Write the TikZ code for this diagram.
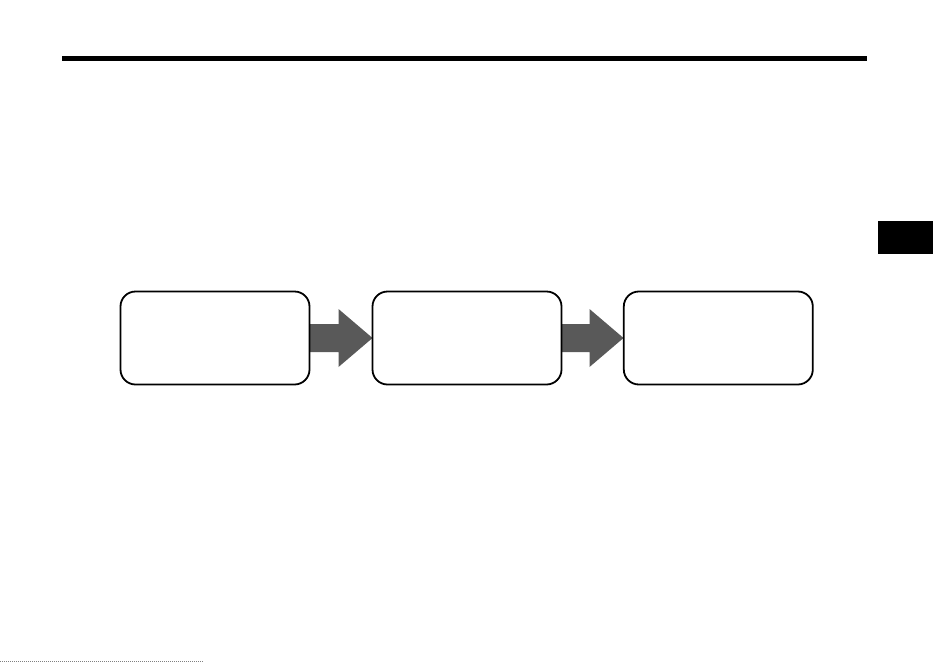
\documentclass[tikz,border=0pt]{standalone}
\usetikzlibrary{calc}
\definecolor{arrowgray}{HTML}{595959}
\tikzset{
  stagebox/.style={draw=black, line width=1.8pt, rounded corners=15pt, fill=white,
    minimum width=189pt, minimum height=93pt, inner sep=0pt},
  blockarrow/.style={fill=arrowgray, draw=none},
  rulebar/.style={line width=4.5pt},
}
\begin{document}
\begin{tikzpicture}[x=1pt,y=-1pt]
\useasboundingbox (0,0) rectangle (933,662);
\fill[white] (0,0) rectangle (933,662);
% top rule
\coordinate (ruleL) at (62,58.3);
\coordinate (ruleR) at (867,58.3);
\draw[rulebar] (ruleL) -- (ruleR);
% side tab
\fill[black] (878,221) rectangle (933,254);
% bottom footnote rule
\coordinate (footL) at (0,661);
\coordinate (footR) at (203,661);
\draw[line width=1pt, gray, dash pattern=on 1pt off 1pt] (footL) -- (footR);
% arrows
\coordinate (a1s) at (310,338);
\coordinate (a1t) at (372.5,338);
\coordinate (a2s) at (561,338);
\coordinate (a2t) at (623.5,338);
\fill[blockarrow] ($(a1s)+(0,-14)$) -- ($(a1t)+(-34,-14)$) -- ($(a1t)+(-34,-29)$) -- (a1t)
  -- ($(a1t)+(-34,29)$) -- ($(a1t)+(-34,14)$) -- ($(a1s)+(0,14)$) -- cycle;
\fill[blockarrow] ($(a2s)+(0,-14)$) -- ($(a2t)+(-34,-14)$) -- ($(a2t)+(-34,-29)$) -- (a2t)
  -- ($(a2t)+(-34,29)$) -- ($(a2t)+(-34,14)$) -- ($(a2s)+(0,14)$) -- cycle;
% boxes
\node[stagebox] (b1) at (215,338) {};
\node[stagebox] (b2) at (467,338) {};
\node[stagebox] (b3) at (718.3,338) {};
\end{tikzpicture}
\end{document}
